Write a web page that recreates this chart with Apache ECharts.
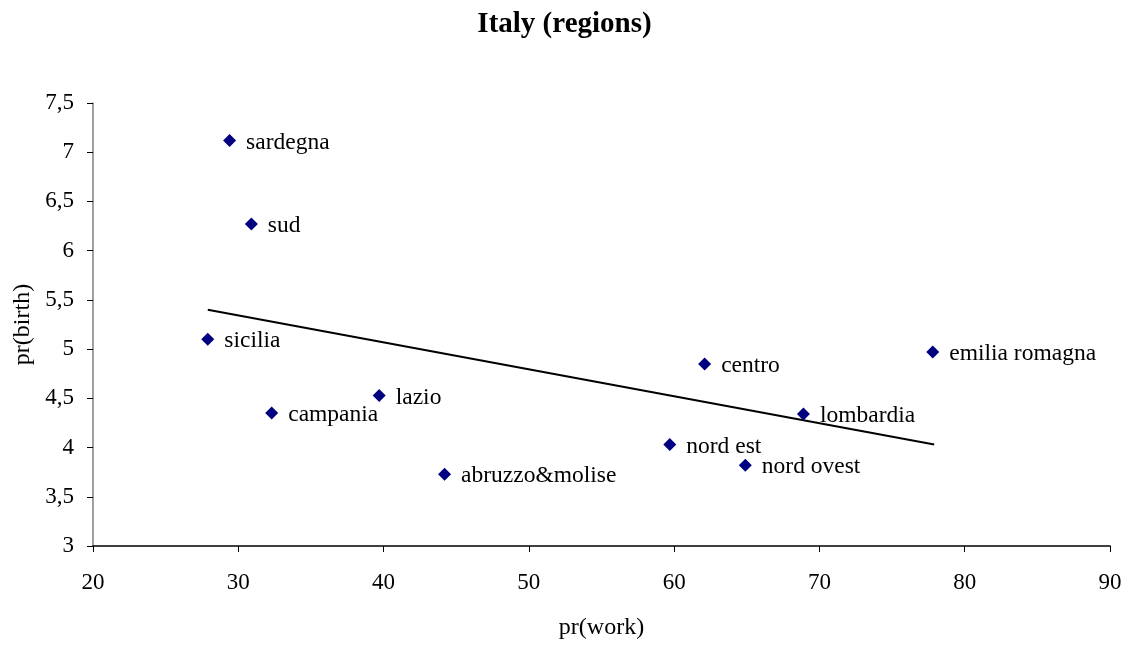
<!DOCTYPE html>
<html>
<head>
<meta charset="utf-8">
<script src="https://cdn.jsdelivr.net/npm/echarts@6/dist/echarts.min.js"></script>
<style>
  html, body { margin: 0; padding: 0; background: #fff; }
  #chart { width: 1129px; height: 646px; }
</style>
</head>
<body>
<div id="chart"></div>
<script>
// regions, pr(work) and pr(birth)
var regions = ["sardegna", "sud", "sicilia", "campania", "lazio", "abruzzo&molise",
  "nord est", "centro", "nord ovest", "lombardia", "emilia romagna"];
var prWork = [29.4, 30.9, 27.9, 32.3, 39.7, 44.2, 59.7, 62.1, 64.9, 68.9, 77.8];
var prBirth = [7.12, 6.27, 5.10, 4.35, 4.53, 3.73, 4.03, 4.85, 3.82, 4.34, 4.97];
// linear trend line end points
var trendX = [27.9, 77.9];
var trendY = [5.40, 4.03];

var font = "Liberation Serif";
var points = regions.map(function (r, i) { return [prWork[i], prBirth[i], r]; });
var trend = trendX.map(function (x, i) { return [x, trendY[i]]; });

var chart = echarts.init(document.getElementById("chart"));
chart.setOption({
  animation: false,
  backgroundColor: "#fff",
  title: {
    text: "Italy (regions)",
    left: "center",
    top: 5,
    textStyle: { fontFamily: font, fontSize: 29, fontWeight: "bold", color: "#000" }
  },
  grid: { left: 93, right: 19, top: 103, bottom: 100 },
  xAxis: {
    type: "value",
    min: 20, max: 90, interval: 10,
    name: "pr(work)",
    nameLocation: "middle",
    nameGap: 70,
    nameTextStyle: { fontFamily: font, fontSize: 24, color: "#000" },
    axisLine: { lineStyle: { color: "#000", width: 1.5 } },
    axisTick: { show: true, length: 6, lineStyle: { color: "#000" } },
    axisLabel: { fontFamily: font, fontSize: 23, color: "#000", margin: 25 },
    splitLine: { show: false }
  },
  yAxis: {
    type: "value",
    min: 3, max: 7.5, interval: 0.5,
    name: "pr(birth)",
    nameLocation: "middle",
    nameGap: 58,
    nameTextStyle: { fontFamily: font, fontSize: 24, color: "#000" },
    axisLine: { show: true, lineStyle: { color: "#808080", width: 1.5 } },
    axisTick: { show: true, length: 6, lineStyle: { color: "#000" } },
    axisLabel: {
      fontFamily: font, fontSize: 23, color: "#000", margin: 19,
      formatter: function (v) { return String(v).replace(".", ","); }
    },
    splitLine: { show: false }
  },
  series: [
    {
      type: "line",
      data: trend,
      showSymbol: false,
      lineStyle: { color: "#000", width: 2 },
      silent: true,
      z: 1
    },
    {
      type: "scatter",
      data: points,
      symbol: "diamond",
      symbolSize: 13,
      itemStyle: { color: "#000080", opacity: 1 },
      label: {
        show: true,
        position: "right",
        distance: 10,
        fontFamily: font,
        fontSize: 23.5,
        color: "#000",
        opacity: 1,
        offset: [0, 2],
        formatter: function (p) { return p.value[2]; }
      },
      z: 3
    }
  ]
});
</script>
</body>
</html>
